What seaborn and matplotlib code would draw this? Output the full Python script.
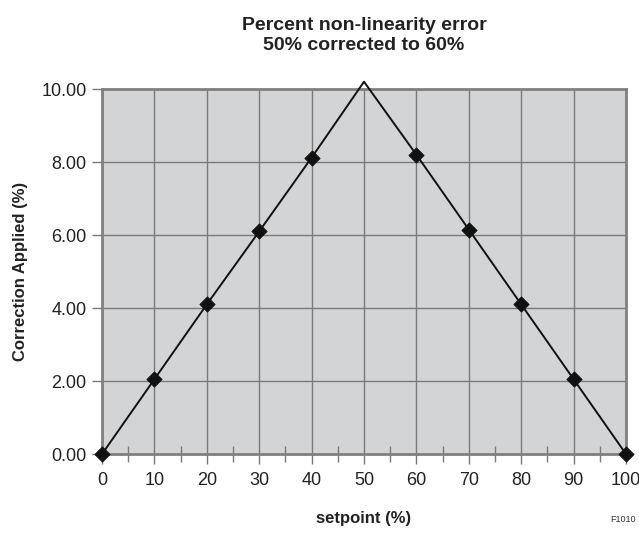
import matplotlib
matplotlib.use("Agg")
import matplotlib.pyplot as plt
import seaborn as sns
import pandas as pd
from matplotlib.ticker import MultipleLocator, FormatStrFormatter

# Correction curve: 50% setpoint corrected to 60%
setpoint = [0, 10, 20, 30, 40, 50, 60, 70, 80, 90, 100]
correction = [0.0, 2.05, 4.1, 6.1, 8.12, 10.2, 8.2, 6.15, 4.1, 2.05, 0.0]
# Setpoints that carry a diamond marker (the peak is drawn without one)
marked = [0, 10, 20, 30, 40, 60, 70, 80, 90, 100]

df = pd.DataFrame({"setpoint": setpoint, "correction": correction})
dm = df[df["setpoint"].isin(marked)]

sns.set_theme(style="white", rc={
    "axes.facecolor": "#d3d4d6",
    "axes.edgecolor": "#808080",
    "axes.linewidth": 2.0,
    "xtick.bottom": True,
    "ytick.left": True,
})
plt.rcParams["font.family"] = ["Liberation Sans", "DejaVu Sans"]

fig = plt.figure(figsize=(6.39, 5.33), dpi=100)
ax = fig.add_axes([0.1596, 0.148, 0.8201, 0.685])

sns.lineplot(data=df, x="setpoint", y="correction", ax=ax, color="#111111",
             linewidth=1.4, clip_on=False, zorder=4)
sns.scatterplot(data=dm, x="setpoint", y="correction", ax=ax, marker="D",
                s=60, color="#111111", edgecolor="#111111", clip_on=False, zorder=5)

ax.set_xlim(0, 100)
ax.set_ylim(0, 10)
ax.xaxis.set_major_locator(MultipleLocator(10))
ax.xaxis.set_minor_locator(MultipleLocator(5))
ax.yaxis.set_major_locator(MultipleLocator(2))
ax.yaxis.set_major_formatter(FormatStrFormatter("%.2f"))

ax.grid(True, which="major", color="#7a7a7a", linewidth=1.0)
ax.set_axisbelow(True)

ax.tick_params(axis="x", which="major", bottom=True, direction="out", length=7,
               width=1.0, color="#7a7a7a", labelsize=13, pad=6,
               labelcolor="#222222")
ax.tick_params(axis="x", which="minor", bottom=True, direction="inout",
               length=12, width=1.0, color="#7a7a7a")
ax.tick_params(axis="y", which="major", left=True, direction="out", length=7,
               width=1.0, color="#7a7a7a", labelsize=13, labelcolor="#222222",
               pad=4)

ax.set_xlabel("setpoint (%)", fontsize=12, fontweight="bold", labelpad=16,
              color="#222222")
ax.set_ylabel("Correction Applied (%)", fontsize=12, fontweight="bold",
              labelpad=10, color="#222222")
ax.set_title("Percent non-linearity error\n50% corrected to 60%", fontsize=14,
             fontweight="bold", pad=28, color="#222222", linespacing=1.25)

fig.text(0.995, 0.025, "F1010", fontsize=6.5, ha="right", va="center",
         color="#333333")

fig.savefig("out.png", dpi=100)
